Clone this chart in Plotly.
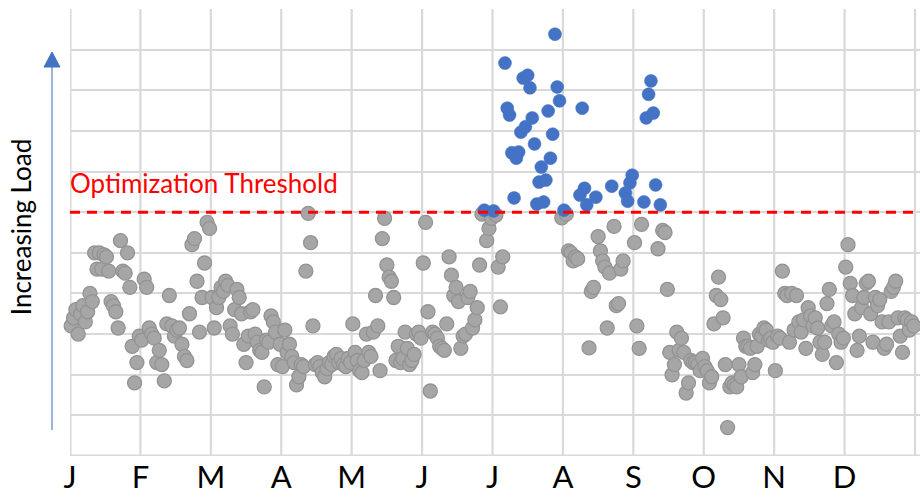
import plotly.graph_objects as go

# ---- data -------------------------------------------------------------
month_labels = ["J", "F", "M", "A", "M", "J", "J", "A", "S", "O", "N", "D"]
threshold = 6.0

jan = [3.2, 3.4, 3.6, 3.0, 3.5, 3.7, 3.3, 3.55, 4.0, 3.8, 5.0, 4.6, 5.0, 4.6, 4.95,
       4.9, 4.55, 3.8, 3.7, 3.55, 3.15, 5.3, 4.55, 4.5, 5.0, 4.15, 2.7, 1.8, 2.3, 2.95]
feb = [2.85, 4.35, 4.15, 3.15, 3.0, 2.9, 2.3, 2.6, 2.25, 1.85, 3.25, 3.95, 3.2, 2.95,
       3.1, 3.15, 2.75, 2.45, 2.35, 3.5, 5.2, 5.35, 4.3, 3.05, 3.9, 4.75, 5.75, 5.6]
mar = [3.9, 3.15, 3.65, 3.9, 4.15, 4.05, 4.3, 4.2, 3.2, 3.0, 3.6, 4.1, 3.9, 3.5, 2.75,
       2.3, 2.95, 3.55, 3.6, 3.0, 2.8, 2.6, 2.55, 1.7, 2.85, 2.8, 3.45, 3.3, 3.05, 2.25, 2.75]
apr = [2.2, 3.1, 2.55, 2.75, 2.45, 2.3, 1.75, 1.95, 2.25, 2.2, 4.55, 5.97, 5.25, 3.2,
       2.25, 2.3, 2.2, 2.05, 1.95, 2.15, 2.3, 2.25, 2.45, 2.5, 2.3, 2.4, 2.25, 2.2, 2.4, 2.3]
may = [3.25, 2.55, 2.35, 2.1, 2.05, 2.35, 3.0, 2.55, 2.45, 3.05, 3.95, 3.2, 2.1, 5.35,
       5.85, 4.7, 4.4, 4.3, 3.9, 2.35, 2.7, 2.3, 2.4, 3.05, 2.65, 2.25, 2.35, 2.5, 3.0, 3.05, 2.9]
jun = [4.75, 5.75, 3.55, 1.6, 3.05, 3.0, 2.9, 2.7, 2.65, 2.6, 3.25, 4.9, 4.45, 3.95,
       4.15, 3.8, 2.65, 2.95, 3.0, 3.9, 4.05, 3.15, 3.35, 3.65, 4.7, 5.95, 6.05, 5.3, 5.6, 5.85]
jul = [6.03, 5.93, 4.65, 3.67, 4.9, 9.67, 8.56, 8.39, 7.46, 6.35, 7.33, 7.48, 7.97, 9.3,
       8.1, 9.37, 9.06, 8.32, 7.68, 6.2, 6.74, 7.11, 6.25, 6.79, 8.49, 7.33, 7.92, 10.38,
       9.08, 8.74, 5.86]
aug = [6.05, 5.95, 5.05, 5.0, 4.8, 4.9, 4.85, 6.42, 8.56, 6.59, 6.18, 2.66, 4.05, 4.15,
       6.37, 5.4, 5.05, 4.8, 4.65, 3.15, 4.5, 6.64, 5.65, 3.7, 3.75, 4.6, 4.8, 6.47, 6.27,
       6.72, 6.91]
sep = [5.25, 3.2, 2.65, 5.7, 6.25, 8.32, 8.9, 9.23, 8.44, 6.67, 5.1, 6.18, 5.55, 5.5,
       4.1, 2.55, 2.0, 2.25, 3.05, 2.6, 2.9, 2.55, 1.55, 1.8, 2.35, 2.3, 2.3, 2.25, 2.1, 2.4]
oct_ = [2.2, 2.1, 1.8, 1.95, 3.25, 3.95, 4.4, 3.85, 3.4, 2.25, 0.7, 1.7, 1.8, 1.75, 1.7,
        2.25, 1.95, 2.9, 2.7, 2.7, 2.65, 2.05, 2.25, 2.7, 3.0, 2.95, 3.15, 3.1, 2.85, 2.9, 2.8]
nov = [2.1, 2.95, 2.9, 4.55, 4.0, 3.95, 2.8, 4.0, 3.1, 3.95, 3.3, 3.05, 3.35, 2.65, 3.65,
       3.45, 3.2, 3.4, 3.15, 2.8, 2.5, 2.8, 3.75, 4.1, 3.2, 3.3, 2.3, 3.0, 2.8, 2.9]
dec = [4.65, 5.2, 4.25, 3.95, 3.5, 2.6, 2.95, 3.65, 3.9, 4.25, 4.3, 3.5, 2.8, 3.9, 3.7,
       3.85, 3.3, 2.65, 2.75, 3.3, 4.05, 4.15, 4.3, 3.4, 2.95, 2.55, 3.4, 3.35, 3.1, 3.3, 3.2]

monthly = [jan, feb, mar, apr, may, jun, jul, aug, sep, oct_, nov, dec]

# ---- build point positions (month index + fraction of month) -----------
gx, gy, bx, by = [], [], [], []
for m, vals in enumerate(monthly):
    n = len(vals)
    for i, v in enumerate(vals):
        xpos = m + (i + 0.5) / n
        if v > threshold:
            bx.append(xpos); by.append(v)
        else:
            gx.append(xpos); gy.append(v)

FONT = "Lato"
GRID = "#D9D9D9"

fig = go.Figure()
fig.add_trace(go.Scatter(
    x=gx, y=gy, mode="markers", cliponaxis=False,
    marker=dict(size=14, color="#A6A6A6", line=dict(color="#939393", width=1.3)),
    showlegend=False, hoverinfo="skip"))
fig.add_trace(go.Scatter(
    x=bx, y=by, mode="markers", cliponaxis=False,
    marker=dict(size=13, color="#4472C4", line=dict(color="#4472C4", width=0.5)),
    showlegend=False, hoverinfo="skip"))

# threshold line
fig.add_shape(type="line", xref="x", yref="y", x0=0, x1=12, y0=threshold, y1=threshold,
              line=dict(color="#FF0000", width=3, dash="10px,7px"), layer="above")
fig.add_annotation(xref="x", yref="y", x=0, y=threshold + 0.72, text="Optimization Threshold",
                   showarrow=False, xanchor="left", yanchor="middle", xshift=-2,
                   font=dict(family=FONT, size=26, color="#FF0000"))

# y title + arrow
fig.add_annotation(xref="paper", yref="paper", x=-0.0576, y=0.512, text="Increasing Load",
                   textangle=-90, showarrow=False, xanchor="center", yanchor="middle",
                   font=dict(family=FONT, size=26, color="#000000"))
fig.add_shape(type="line", xref="paper", yref="paper", x0=-0.02118, x1=-0.02118,
              y0=0.0582, y1=0.875, line=dict(color="#8FAADC", width=1.8))
fig.add_shape(type="path", xref="paper", yref="paper",
              path="M -0.03059,0.8702 L -0.01176,0.8702 L -0.02118,0.9038 Z",
              fillcolor="#4472C4", line=dict(color="#4472C4", width=1))

fig.update_xaxes(range=[0, 12.071], tickvals=list(range(12)), ticktext=month_labels,
                 showgrid=False, zeroline=False, showline=False,
                 ticks="", tickfont=dict(family=FONT, size=31, color="#000000"),
                 automargin=False)
# vertical month gridlines
for m in range(13):
    fig.add_shape(type="line", xref="x", yref="y", x0=m, x1=m, y0=0, y1=11,
                  line=dict(color=GRID, width=2.2 if m else 3), layer="below")
fig.update_yaxes(range=[0, 11], dtick=1, tick0=0, showgrid=True, gridcolor=GRID,
                 gridwidth=2, zeroline=False, showticklabels=False, showline=False,
                 automargin=False)
fig.add_shape(type="line", xref="x", yref="y", x0=0, x1=12.071, y0=0, y1=0,
              line=dict(color=GRID, width=3), layer="below")

fig.update_layout(width=920, height=497, margin=dict(l=70, r=0, t=9, b=41),
                  paper_bgcolor="white", plot_bgcolor="white",
                  font=dict(family=FONT))

fig.write_html("out.html")
